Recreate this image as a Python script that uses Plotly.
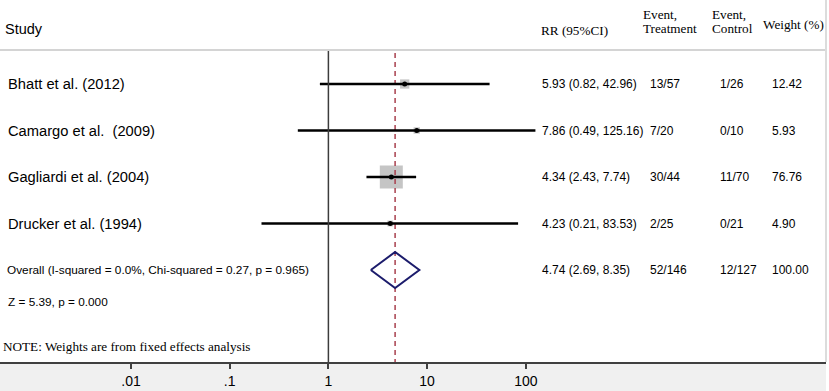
import plotly.graph_objects as go
import math

# ---------------- data ----------------
studies = ["Bhatt et al. (2012)", "Camargo et al.  (2009)", "Gagliardi et al. (2004)", "Drucker et al. (1994)"]
rr = [5.93, 7.86, 4.34, 4.23]
ci_lo = [0.82, 0.49, 2.43, 0.21]
ci_hi = [42.96, 125.16, 7.74, 83.53]
events_treat = ["13/57", "7/20", "30/44", "2/25"]
events_ctrl = ["1/26", "0/10", "11/70", "0/21"]
weights = [12.42, 5.93, 76.76, 4.90]

overall_label = "Overall (I-squared = 0.0%, Chi-squared = 0.27, p = 0.965)"
overall_rr = 4.74
overall_lo = 2.69
overall_hi = 8.35
overall_treat = "52/146"
overall_ctrl = "12/127"
overall_weight = 100.00
z_text = "Z = 5.39, p = 0.000"
note_text = "NOTE: Weights are from fixed effects analysis"

tick_vals = [0.01, 0.1, 1, 10, 100]
tick_text = [".01", ".1", "1", "10", "100"]

# ---------------- layout constants ----------------
W, H = 829, 391
PLOT_W = 826
PLOT_H = 362
X_ONE_PX = 328.4      # pixel of RR = 1
DECADE_PX = 98.7      # pixels per decade
ROW0_PX = 37.5        # pixel y of row 0
ROW_PX = 46.5         # pixels per row

xr = [-X_ONE_PX / DECADE_PX, (PLOT_W - X_ONE_PX) / DECADE_PX]
yr = [(PLOT_H - ROW0_PX) / ROW_PX, (0 - ROW0_PX) / ROW_PX]


def row_of(py):
    return (py - ROW0_PX) / ROW_PX


def px(x):
    return x / PLOT_W


def py(y):
    return 1 - y / PLOT_H


rows = [1, 2, 3, 4]
overall_row = 5

SANS = "Liberation Sans, Arial, sans-serif"
SERIF = "Liberation Serif, Times New Roman, serif"

fig = go.Figure()

# weight squares
fig.add_trace(go.Scatter(
    x=rr, y=rows, mode="markers",
    marker=dict(symbol="square", color="#acacac",
                size=[23 * math.sqrt(w / max(weights)) for w in weights],
                line=dict(width=0)),
    hoverinfo="skip", showlegend=False))

# dashed overall line
fig.add_trace(go.Scatter(
    x=[overall_rr, overall_rr], y=[row_of(53), yr[0]], mode="lines",
    line=dict(color="#a8404e", width=1.5, dash="5px,4px"),
    hoverinfo="skip", showlegend=False))

# CI lines
cx, cy = [], []
for r, l, h in zip(rows, ci_lo, ci_hi):
    cx += [l, h, None]
    cy += [r, r, None]
fig.add_trace(go.Scatter(x=cx, y=cy, mode="lines",
                         line=dict(color="black", width=2.5),
                         hoverinfo="skip", showlegend=False))

# point estimates
fig.add_trace(go.Scatter(x=rr, y=rows, mode="markers",
                         marker=dict(symbol="circle", color="black", size=5),
                         hoverinfo="skip", showlegend=False))

# diamond
dh = 18 / ROW_PX
fig.add_trace(go.Scatter(
    x=[overall_lo, overall_rr, overall_hi, overall_rr, overall_lo],
    y=[overall_row, overall_row - dh, overall_row, overall_row + dh, overall_row],
    mode="lines", line=dict(color="#1c1c6c", width=2),
    hoverinfo="skip", showlegend=False))

# null line at RR = 1
fig.add_trace(go.Scatter(x=[1, 1], y=[row_of(51), yr[0]], mode="lines",
                         line=dict(color="#3c3c3c", width=1.5),
                         hoverinfo="skip", showlegend=False))

ann = []


def add_text(x_px, y_val, text, font, size, yref="y", color="black"):
    ann.append(dict(x=px(x_px), xref="paper", y=y_val, yref=yref, text=text,
                    showarrow=False, xanchor="left", yanchor="middle",
                    font=dict(family=font, size=size, color=color)))


# header
add_text(3, py(29), "Study", SANS, 14.5, yref="paper")
add_text(539, py(30), "RR (95%CI)", SERIF, 13.2, yref="paper")
add_text(641, py(14), "Event,", SERIF, 13.2, yref="paper")
add_text(641, py(28), "Treatment", SERIF, 13.2, yref="paper")
add_text(710, py(14), "Event,", SERIF, 13.2, yref="paper")
add_text(710, py(28), "Control", SERIF, 13.2, yref="paper")
add_text(761, py(25), "Weight (%)", SERIF, 13.2, yref="paper")

for r, s, e, l, h, t, c, w in zip(rows, studies, rr, ci_lo, ci_hi, events_treat, events_ctrl, weights):
    add_text(6, r, s, SANS, 14.7)
    add_text(540, r, f"{e:.2f} ({l:.2f}, {h:.2f})", SANS, 12)
    add_text(648, r, t, SANS, 12)
    add_text(718, r, c, SANS, 12)
    add_text(770, r, f"{w:.2f}", SANS, 12)

add_text(5, overall_row, overall_label, SANS, 11.8)
add_text(540, overall_row, f"{overall_rr:.2f} ({overall_lo:.2f}, {overall_hi:.2f})", SANS, 12)
add_text(648, overall_row, overall_treat, SANS, 12)
add_text(718, overall_row, overall_ctrl, SANS, 12)
add_text(770, overall_row, f"{overall_weight:.2f}", SANS, 12)
add_text(6, py(302), z_text, SANS, 11.8, yref="paper")
add_text(1, py(346), note_text, SERIF, 13.2, yref="paper")

shapes = [
    # bottom grey band
    dict(type="rect", xref="paper", yref="paper", x0=0, x1=1,
         y0=-(H - PLOT_H) / PLOT_H, y1=0, fillcolor="#f0f0f0",
         line=dict(width=0), layer="below"),
    # header rule
    dict(type="line", xref="paper", yref="paper", x0=0, x1=1,
         y0=py(50), y1=py(50), line=dict(color="#d4d4d4", width=2)),
    # right edge rule
    dict(type="line", xref="paper", yref="paper", x0=1, x1=1,
         y0=0, y1=1, line=dict(color="#dcdcdc", width=2)),
]

fig.update_layout(
    width=W, height=H,
    margin=dict(l=0, r=W - PLOT_W, t=0, b=H - PLOT_H),
    paper_bgcolor="white", plot_bgcolor="white",
    showlegend=False,
    annotations=ann, shapes=shapes,
    xaxis=dict(type="log", range=xr, tickvals=tick_vals, ticktext=tick_text,
               showline=True, linecolor="#404040", linewidth=1.5,
               ticks="outside", ticklen=5, tickwidth=1.5, tickcolor="#404040",
               showgrid=False, zeroline=False, fixedrange=True,
               tickfont=dict(family=SANS, size=14, color="black")),
    yaxis=dict(range=yr, visible=False, showgrid=False, zeroline=False, fixedrange=True),
)

fig.write_html("out.html",
               config={"displayModeBar": False},
               post_script="document.body.style.margin='0';document.body.style.padding='0';")
